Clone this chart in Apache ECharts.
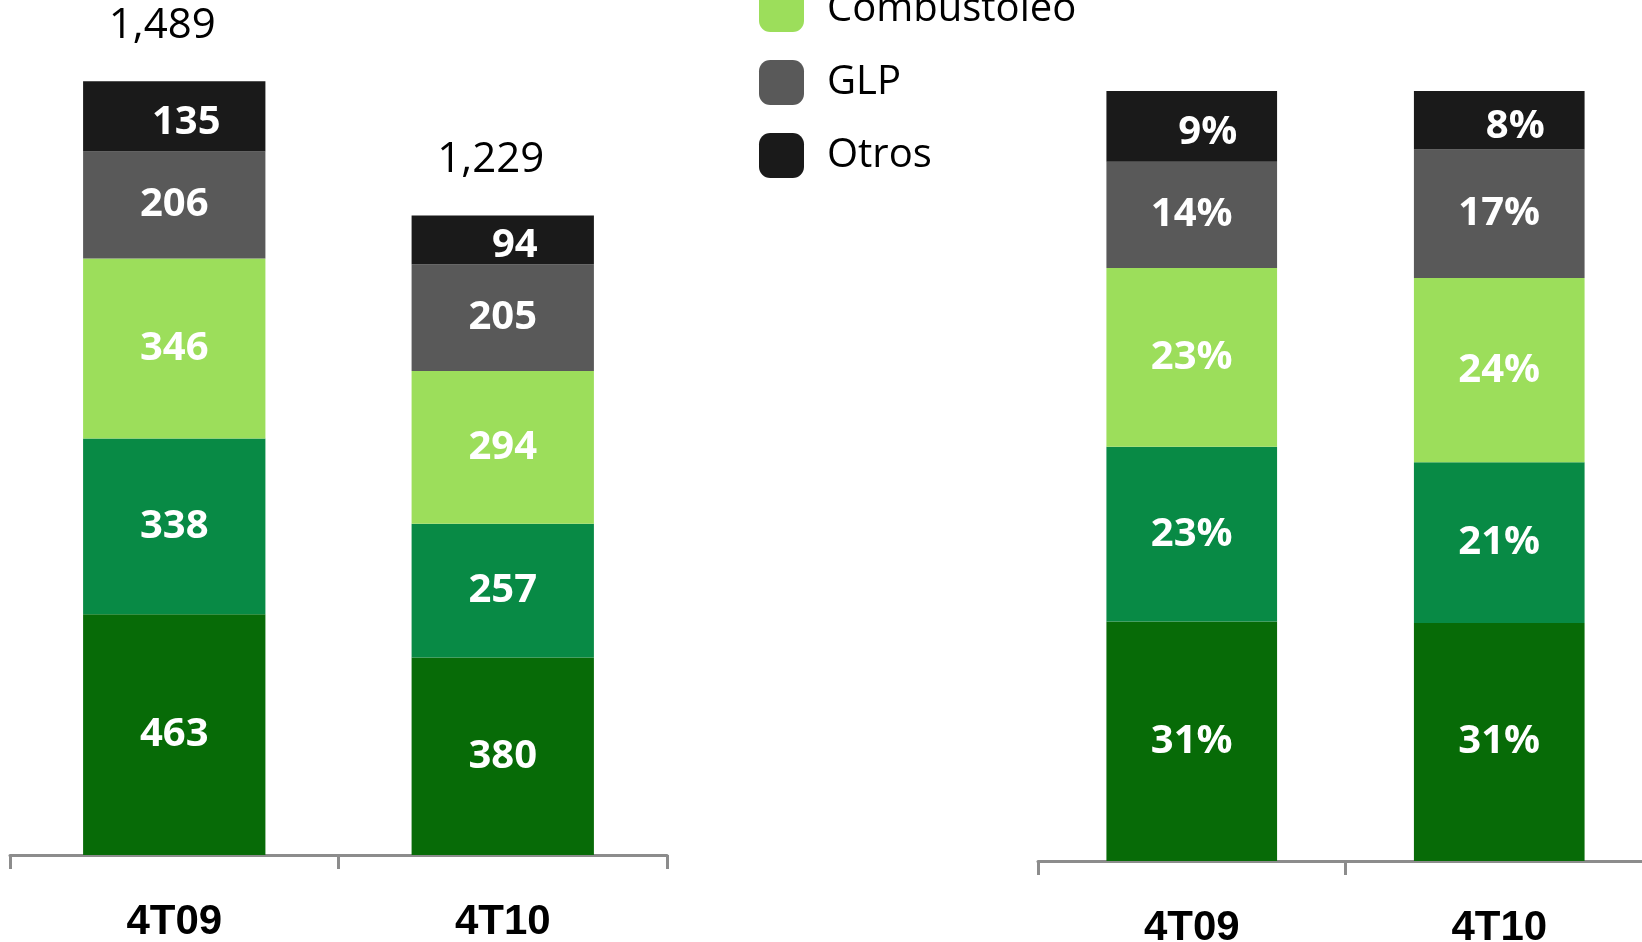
<!DOCTYPE html>
<html>
<head>
<meta charset="utf-8">
<style>
  html, body { margin: 0; padding: 0; background: #fff; }
  #root { width: 1642px; height: 942px; }
</style>
<script src="https://cdn.jsdelivr.net/npm/echarts@6/dist/echarts.min.js"></script>
</head>
<body>
<div id="root"></div>
<script>
// datos
const categories = ['4T09', '4T10'];
const seriesNames = ['Gasolinas', 'Diesel', 'Combustoleo', 'GLP', 'Otros'];
const legendNames = ['Combustoleo', 'GLP', 'Otros'];
const colors = ['#076b07', '#088a45', '#9cde5b', '#595959', '#1a1a1a'];

// volumen (izquierda), de abajo hacia arriba
const volGasolinas = [463, 380];
const volDiesel = [338, 257];
const volCombustoleo = [346, 294];
const volGLP = [206, 205];
const volOtros = [135, 94];
const totals = [1489, 1229];

// participacion % (derecha)
const pctGasolinas = [31.1, 30.9];
const pctDiesel = [22.7, 20.9];
const pctCombustoleo = [23.2, 23.9];
const pctGLP = [13.8, 16.7];
const pctOtros = [9.2, 7.6];

const volData = [volGasolinas, volDiesel, volCombustoleo, volGLP, volOtros];
const pctData = [pctGasolinas, pctDiesel, pctCombustoleo, pctGLP, pctOtros];

const FONT = '"Open Sans", "DejaVu Sans", sans-serif';

let axisStyle = function () {
    return {
        type: 'category',
        data: categories,
        axisLine: { lineStyle: { color: '#8c8c8c', width: 3 } },
        axisTick: { show: true, length: 14, lineStyle: { color: '#8c8c8c', width: 3 } },
        axisLabel: {
            margin: 46,
            color: '#000',
            fontFamily: '"Liberation Sans", Arial, sans-serif',
            fontWeight: 'bold',
            fontSize: 42
        }
    };
};

let buildSeries = function (dataList, axisIdx, isPct) {
    return dataList.map((vals, i) => {
        return {
            name: seriesNames[i],
            type: 'bar',
            stack: 'total' + axisIdx,
            xAxisIndex: axisIdx,
            yAxisIndex: axisIdx,
            barWidth: '55.5%',
            data: vals,
            itemStyle: { color: colors[i] },
            label: {
                show: true,
                position: 'inside',
                color: '#fff',
                fontFamily: FONT,
                fontWeight: 'bold',
                fontSize: 40,
                offset: i === 4 ? [isPct ? 16 : 12, 6] : [0, 0],
                formatter: p => isPct ? Math.round(p.value) + '%' : String(p.value)
            }
        };
    });
};

let series = buildSeries(volData, 0, false).concat(buildSeries(pctData, 1, true));

// totales encima de la barra izquierda
series.push({
    name: 'Total',
    type: 'bar',
    stack: 'total0',
    xAxisIndex: 0,
    yAxisIndex: 0,
    barWidth: '55.5%',
    data: totals.map(() => 0),
    itemStyle: { color: 'transparent' },
    label: {
        show: true,
        position: 'top',
        distance: 34,
        offset: [-12, 0],
        color: '#000',
        fontFamily: FONT,
        fontSize: 42,
        formatter: p => totals[p.dataIndex].toLocaleString('en-US')
    }
});

let chart = echarts.init(document.getElementById('root'));
chart.setOption({
    animation: false,
    backgroundColor: '#fff',
    legend: {
        data: legendNames,
        orient: 'vertical',
        left: 754,
        top: -18,
        itemWidth: 45,
        itemHeight: 45,
        itemGap: 28,
        icon: 'roundRect',
        textStyle: { fontFamily: FONT, fontSize: 40, color: '#000', padding: [0, 0, 0, 18] },
        selectedMode: false
    },
    grid: [
        { left: 10, width: 657, top: 23, bottom: 87, outerBoundsMode: 'none', containLabel: false },
        { left: 1038, width: 615, top: 91, bottom: 81, outerBoundsMode: 'none', containLabel: false }
    ],
    xAxis: [
        Object.assign(axisStyle(), { gridIndex: 0 }),
        Object.assign(axisStyle(), { gridIndex: 1 })
    ],
    yAxis: [
        { type: 'value', gridIndex: 0, min: 0, max: 1600, show: false },
        { type: 'value', gridIndex: 1, min: 0, max: 100, show: false }
    ],
    series: series
});
</script>
</body>
</html>
